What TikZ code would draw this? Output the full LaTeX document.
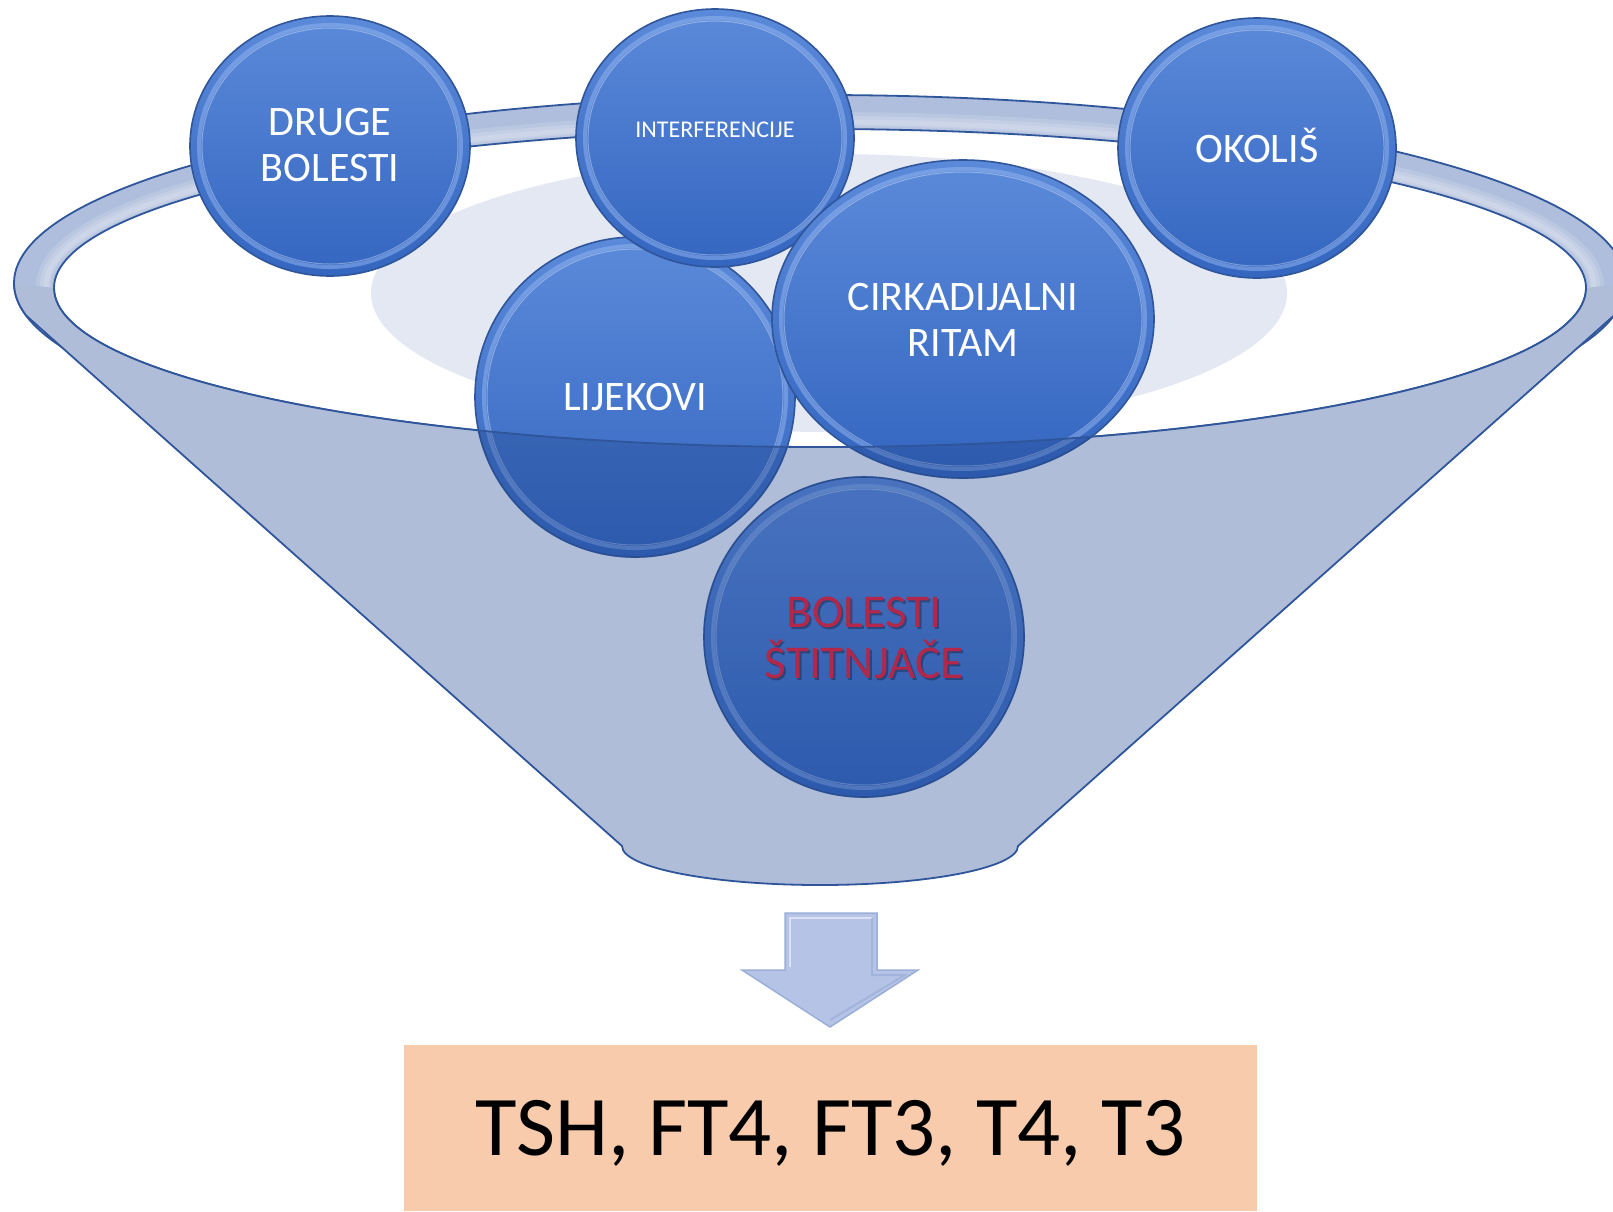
\documentclass[tikz,border=0pt]{standalone}
\usepackage{fontspec}
\setmainfont{Carlito}
\usetikzlibrary{shapes.geometric}
\definecolor{rimc}{HTML}{AEBEDC}
\definecolor{conec}{HTML}{AFBDD9}
\definecolor{edgec}{HTML}{2F559A}
\definecolor{backc}{HTML}{E4E8F2}
\definecolor{balltop}{HTML}{5C8ADA}
\definecolor{ballbot}{HTML}{3466C0}
\definecolor{ballrim}{HTML}{8FB2EE}
\definecolor{shadec}{HTML}{1E3F82}
\definecolor{redtxt}{HTML}{B2274A}
\definecolor{arrowc}{HTML}{B5C4E6}
\definecolor{arrowe}{HTML}{9AAED8}
\definecolor{boxc}{HTML}{F7CBAC}
\tikzset{
  ball/.style={ellipse, inner sep=0pt, top color=balltop, bottom color=ballbot, draw=edgec, line width=1.6pt},
  balltext/.style={text=white, align=center, inner sep=0pt, font=\fontsize{42}{46}\selectfont},
  smalltext/.style={text=white, inner sep=0pt, font=\fontsize{24}{28}\selectfont},
  redtext/.style={text=redtxt, align=center, inner sep=0pt, font=\fontsize{47}{51.5}\selectfont},
  edgeline/.style={draw=edgec, line width=1.8pt},
}
\newcommand{\mkball}[5]{%
  \node[ball, minimum width=#4pt, minimum height=#5pt] (#1) at (#2,#3) {};
  \draw[ballrim, line width=4pt, opacity=.55] (#1.center) ellipse [x radius={#4/2-9}, y radius={#5/2-9}];
  \draw[white, line width=1pt, opacity=.35] (#1.center) ellipse [x radius={#4/2-12}, y radius={#5/2-12}];
}
\newcommand{\fnlfront}{(14,-283) arc[start angle=180, end angle=190, x radius=806, y radius=188]
  -- (622,-846) arc[start angle=180, end angle=360, x radius=198, y radius=39]
  -- (1613.8,-315.6) arc[start angle=350, end angle=360, x radius=806, y radius=188]
  -- (1586,-288) arc[start angle=0, end angle=-180, x radius=766, y radius=159] -- cycle}
\begin{document}
\begin{tikzpicture}[x=1pt,y=1pt]
\useasboundingbox (0,0) rectangle (1613,-1211);
\clip (0,0) rectangle (1613,-1211);
% rim (back)
\fill[rimc] (820,-283) ellipse [x radius=806, y radius=188];
\draw[white, opacity=.15, line width=16pt] (820,-286) ellipse [x radius=776, y radius=166];
\draw[white, opacity=.15, line width=10pt] (820,-286) ellipse [x radius=775, y radius=165];
\draw[white, opacity=.15, line width=5pt] (820,-286) ellipse [x radius=774, y radius=164];
\fill[white] (820,-288) ellipse [x radius=766, y radius=159];
\fill[backc] (829,-293) ellipse [x radius=458, y radius=139];
\draw[edgeline] (820,-283) ellipse [x radius=806, y radius=188];
\draw[edgeline] (820,-288) ellipse [x radius=766, y radius=159];
% front of the funnel
\fill[conec] \fnlfront;
% balls
\mkball{c1}{330}{-146}{280}{260}
\mkball{c3}{1257}{-148}{278}{260}
\mkball{c4}{635}{-397}{320}{320}
\mkball{c2}{715}{-138}{278}{258}
\mkball{c5}{963}{-319}{382}{318}
\mkball{c6}{864}{-637}{320}{320}
% balls seen through the funnel
\begin{scope}
  \clip \fnlfront;
  \fill[shadec, opacity=.3] (c4.center) ellipse [x radius=161, y radius=161];
  \fill[shadec, opacity=.3] (c5.center) ellipse [x radius=192, y radius=160];
  \fill[shadec, opacity=.3] (c6.center) ellipse [x radius=161, y radius=161];
\end{scope}
% funnel outlines in front
\draw[edgeline] (14,-283) arc[start angle=180, end angle=190, x radius=806, y radius=188]
  -- (622,-846) arc[start angle=180, end angle=360, x radius=198, y radius=39]
  -- (1613.8,-315.6) arc[start angle=350, end angle=360, x radius=806, y radius=188];
\draw[edgeline] (1586,-288) arc[start angle=0, end angle=-180, x radius=766, y radius=159];
% labels
\node[balltext] (t1) at (c1.center) [yshift=1pt] {DRUGE\\BOLESTI};
\node[smalltext, anchor=base] (t2) at (715,-137.7) {INTERFERENCIJE};
\node[balltext, anchor=base] (t3) at (1257,-162.5) {OKOLIŠ};
\node[balltext, anchor=base] (t4) at (635,-410.5) {LIJEKOVI};
\node[balltext] (t5) at (963,-319.5) {CIRKADIJALNI\\RITAM};
\node[redtext, text=black, opacity=.3] (t6s) at (866,-640) {BOLESTI\\ŠTITNJAČE};
\node[redtext] (t6) at (864,-638) {BOLESTI\\ŠTITNJAČE};
% block arrow
\fill[arrowc] (785,-913) -- (877,-913) -- (877,-970) -- (918,-970) -- (830,-1027) -- (742,-970) -- (785,-970) -- cycle;
\draw[arrowe, line width=1.5pt, line join=miter] (785,-913) -- (877,-913) -- (877,-970) -- (918,-970) -- (830,-1027) -- (742,-970) -- (785,-970) -- cycle;
\draw[white, opacity=.5, line width=2pt] (790,-967) -- (790,-918) -- (872,-918);
\draw[arrowe, opacity=.7, line width=2pt] (872,-918) -- (872,-975) -- (905,-975) -- (830,-1020);
% result box
\node[fill=boxc, minimum width=853pt, minimum height=166pt, inner sep=0pt,
      text height=54.7pt, text depth=0pt, font=\fontsize{85}{100}\selectfont] (res) at (830.5,-1128) {TSH, FT4, FT3, T4, T3};
\end{tikzpicture}
\end{document}
